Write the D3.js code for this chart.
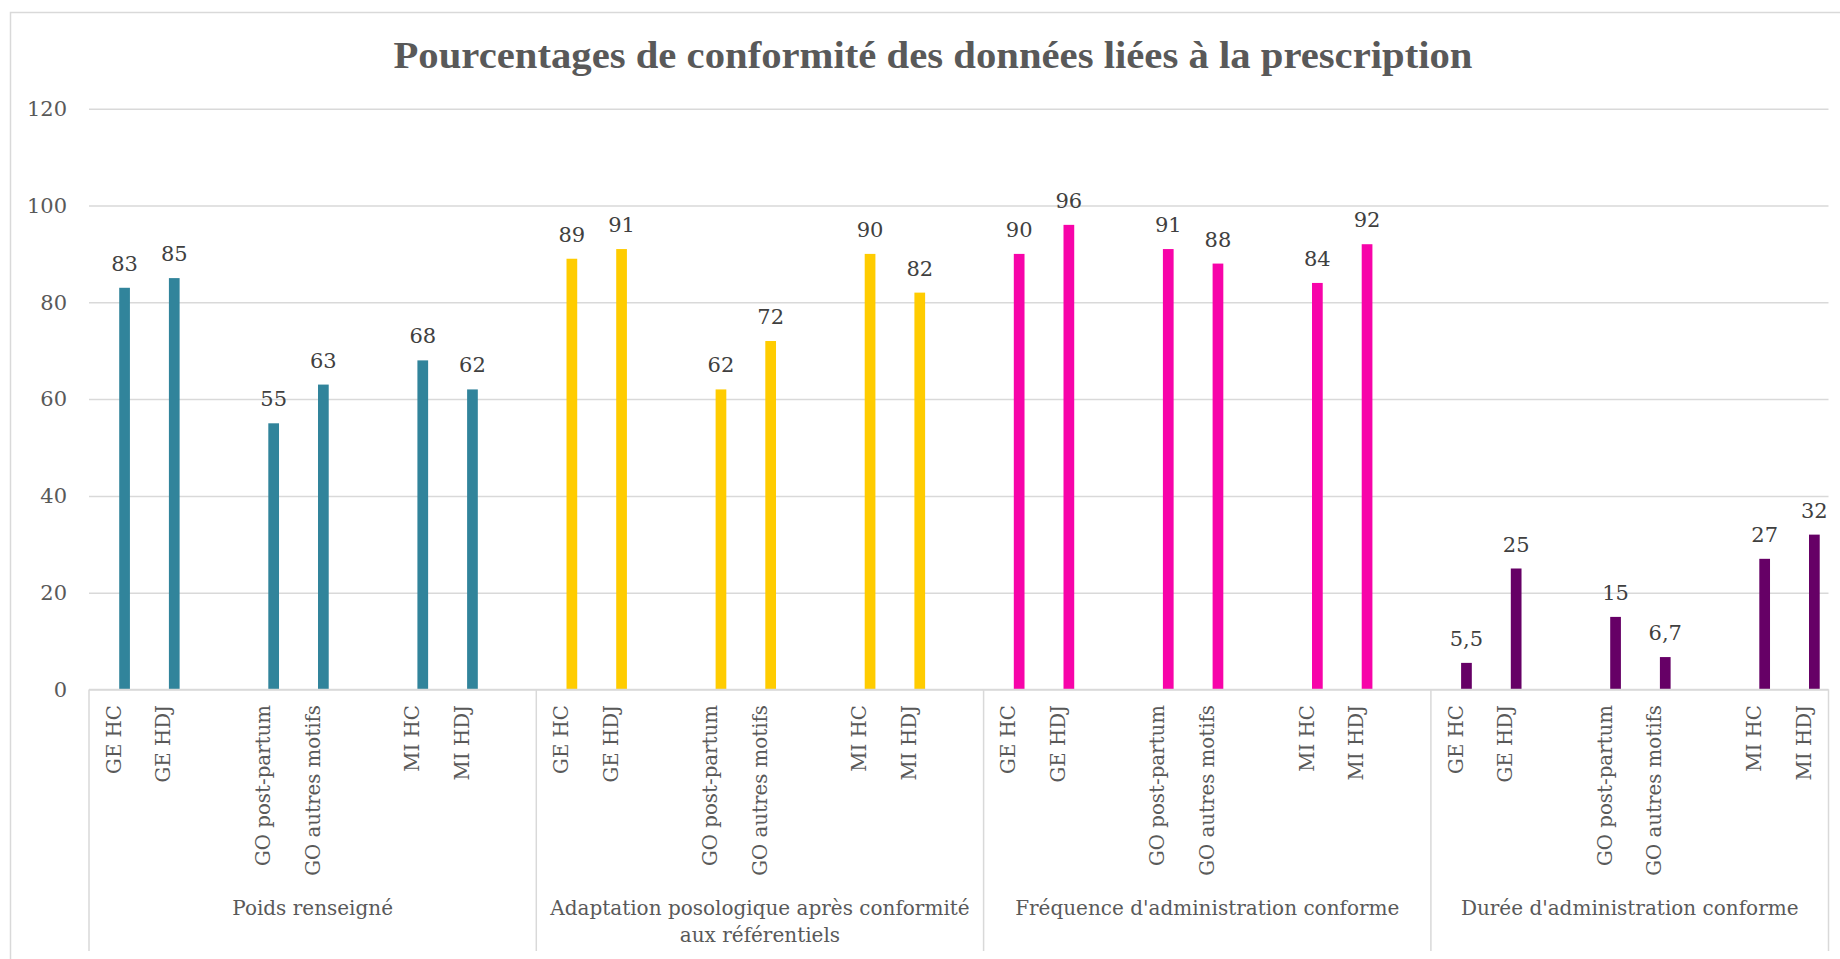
<!DOCTYPE html>
<html>
<head>
<meta charset="utf-8">
<script src="https://cdn.jsdelivr.net/npm/d3@7"></script>
<style>
  html, body { margin: 0; padding: 0; background: #fff; overflow: hidden; }
  svg { display: block; }
</style>
</head>
<body>
<svg id="chart" width="1840" height="959"></svg>
<script>
// ---------- data ----------
const title = "Pourcentages de conformité des données liées à la prescription";
const groups = [
  "Poids renseigné",
  "Adaptation posologique après conformité aux référentiels",
  "Fréquence d'administration conforme",
  "Durée d'administration conforme"
];
const subCategories = ["GE HC", "GE HDJ", "", "GO post-partum", "GO autres motifs", "", "MI HC", "MI HDJ", ""];
const poidsValues      = [83, 85, null, 55, 63, null, 68, 62, null];
const adaptationValues = [89, 91, null, 62, 72, null, 90, 82, null];
const frequenceValues  = [90, 96, null, 91, 88, null, 84, 92, null];
const dureeValues      = [5.5, 25, null, 15, 6.7, null, 27, 32];
const groupColors = ["#31849B", "#FFCC00", "#F704A9", "#660066"];
const yTicks = [0, 20, 40, 60, 80, 100, 120];

const seriesByGroup = [poidsValues, adaptationValues, frequenceValues, dureeValues];

(function () {
// ---------- build slots ----------
const slots = [];
seriesByGroup.forEach((vals, g) => {
  vals.forEach((v, i) => {
    slots.push({ id: g + "|" + i, group: g, label: subCategories[i], value: v });
  });
});

// ---------- layout ----------
const svg = d3.select("#chart");
const fontFamily = "'DejaVu Serif', serif";
const plotL = 89, plotR = 1828.5, plotT = 108.7, plotB = 689.5;
const textColor = "#595959";
const gridColor = "#d9d9d9";

svg.append("rect").attr("width", 1840).attr("height", 959).attr("fill", "#fff");
svg.append("rect")
  .attr("x", 10.5).attr("y", 12.5).attr("width", 1900).attr("height", 1000)
  .attr("fill", "none").attr("stroke", gridColor).attr("stroke-width", 1.5);

const x = d3.scaleBand().domain(slots.map(d => d.id)).range([plotL, plotR]).padding(0);
const sub = d3.scaleBand().domain([0, 1, 2]).range([0, x.bandwidth()]).paddingInner(0).paddingOuter(0.82);
const y = d3.scaleLinear().domain([0, 120]).range([plotB, plotT]);

// title
svg.append("text")
  .attr("x", 933).attr("y", 68)
  .attr("text-anchor", "middle")
  .attr("font-family", "'Liberation Serif', serif")
  .attr("font-weight", "bold")
  .attr("font-size", 37)
  .attr("fill", textColor)
  .attr("textLength", 1079)
  .attr("lengthAdjust", "spacingAndGlyphs")
  .text(title);

// gridlines + y labels
const yAxis = d3.axisLeft(y).tickValues(yTicks).tickSize(-(plotR - plotL)).tickPadding(22).tickFormat(d3.format("d"));
const yg = svg.append("g").attr("transform", `translate(${plotL},0)`).call(yAxis);
yg.select(".domain").remove();
yg.selectAll(".tick line").attr("stroke", gridColor).attr("stroke-width", 1.5);
yg.selectAll(".tick text")
  .attr("font-family", fontFamily).attr("font-size", 21).attr("fill", textColor);

// bars
const barX = d => x(d.id) + sub(2);
svg.append("g").selectAll("rect")
  .data(slots.filter(d => d.value != null))
  .join("rect")
  .attr("x", barX)
  .attr("width", sub.bandwidth())
  .attr("y", d => y(d.value))
  .attr("height", d => y(0) - y(d.value))
  .attr("fill", d => groupColors[d.group]);

// data labels
const fmt = v => String(v).replace(".", ",");
svg.append("g").selectAll("text")
  .data(slots.filter(d => d.value != null))
  .join("text")
  .attr("x", d => barX(d) + sub.bandwidth() / 2)
  .attr("y", d => y(d.value) - 17)
  .attr("text-anchor", "middle")
  .attr("font-family", fontFamily).attr("font-size", 21).attr("fill", "#404040")
  .text(d => fmt(d.value));

// category axis line
svg.append("line")
  .attr("x1", plotL).attr("x2", plotR).attr("y1", plotB).attr("y2", plotB)
  .attr("stroke", gridColor).attr("stroke-width", 1.5);

// category labels (rotated)
svg.append("g").selectAll("text")
  .data(slots.filter(d => d.label))
  .join("text")
  .attr("transform", d => `translate(${x(d.id) + x.bandwidth() / 2},705) rotate(-90)`)
  .attr("text-anchor", "end")
  .attr("dy", "0.35em")
  .attr("font-family", fontFamily).attr("font-size", 19.8).attr("fill", textColor)
  .text(d => d.label);

// group boundaries
const groupExtents = groups.map((g, i) => {
  const ids = slots.filter(s => s.group === i);
  return { name: g, x0: x(ids[0].id), x1: x(ids[ids.length - 1].id) + x.bandwidth() };
});
const boundaries = [plotL, ...groupExtents.map(e => e.x1)];
svg.append("g").selectAll("line")
  .data(boundaries)
  .join("line")
  .attr("x1", d => d).attr("x2", d => d)
  .attr("y1", plotB).attr("y2", 951)
  .attr("stroke", gridColor).attr("stroke-width", 1.5);

// group labels with wrapping
const gl = svg.append("g");
groupExtents.forEach(e => {
  const cx = (e.x0 + e.x1) / 2;
  const maxW = e.x1 - e.x0 - 14;
  const t = gl.append("text")
    .attr("text-anchor", "middle")
    .attr("font-family", fontFamily).attr("font-size", 20).attr("fill", textColor);
  const words = e.name.split(" ");
  let lines = [], line = [];
  const probe = t.append("tspan");
  words.forEach(w => {
    const test = line.concat(w).join(" ");
    probe.text(test);
    if (probe.node().getComputedTextLength() > maxW && line.length) {
      lines.push(line.join(" "));
      line = [w];
    } else line.push(w);
  });
  lines.push(line.join(" "));
  probe.remove();
  lines.forEach((ln, k) => {
    t.append("tspan").attr("x", cx).attr("y", 915 + k * 27).text(ln);
  });
});
})();
</script>
</body>
</html>
